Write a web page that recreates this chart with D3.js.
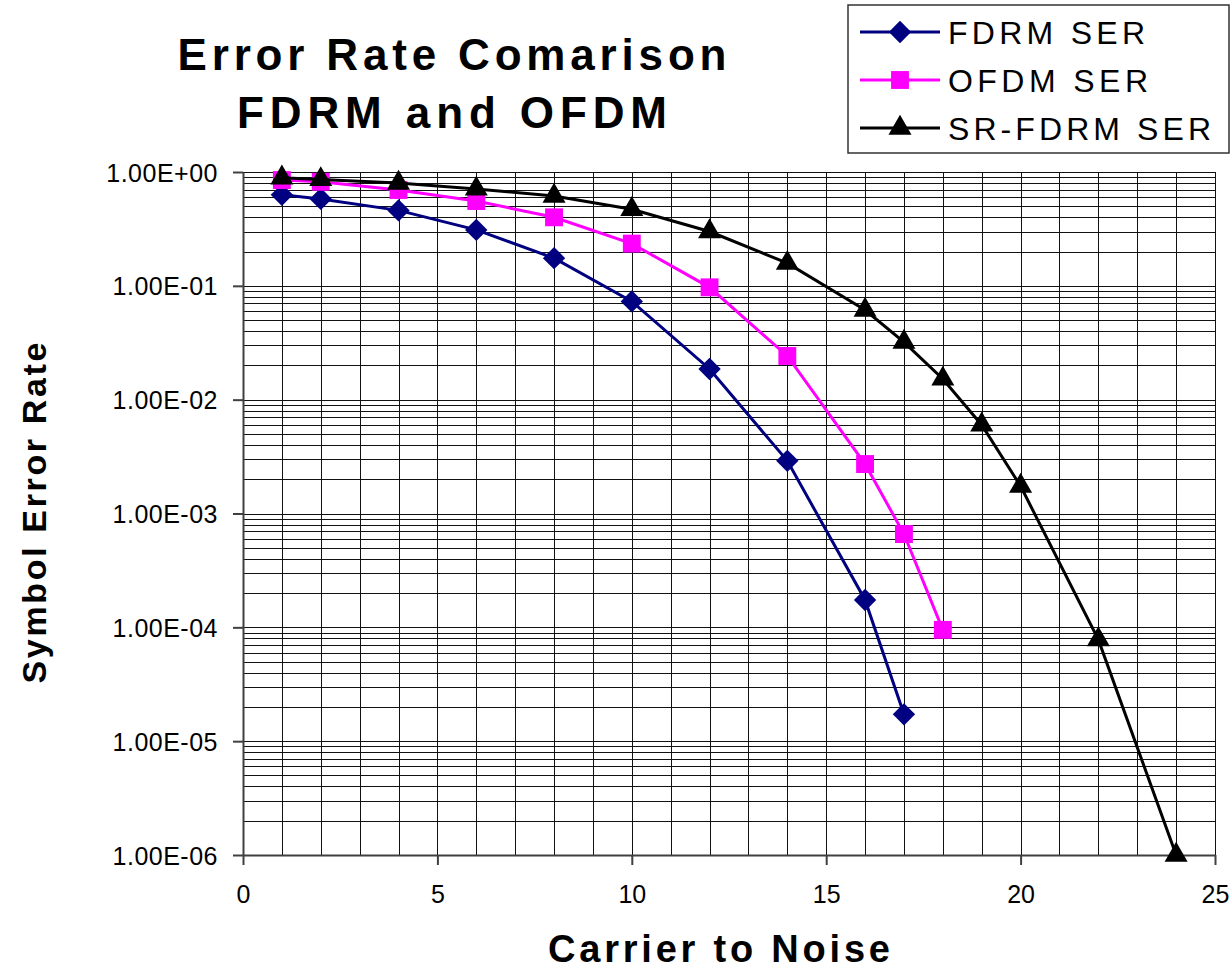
<!DOCTYPE html>
<meta charset="utf-8">
<style>
  body { margin: 0; background: #fff; }
  text { font-family: Arial, "Liberation Sans", sans-serif; fill: #000; }
  .grid line { stroke: #111; stroke-width: 1; shape-rendering: crispEdges; }
  .axis path, .axis line { stroke: #404040; stroke-width: 2; }
  .axis text { font-size: 25px; fill: #000; }
  .series path.line { fill: none; stroke-width: 3; }
</style>
<body>
<script src="https://cdn.jsdelivr.net/npm/d3@7"></script>
<script>

var width = 1232,
    height = 970;

// carrier to noise values for each curve
var fdrmX = [1, 2, 4, 6, 8, 10, 12, 14, 16, 17];
var fdrmSER = [0.63, 0.58, 0.46, 0.31, 0.175, 0.073, 0.0186, 0.0029, 0.000174, 0.0000172];

var ofdmX = [1, 2, 4, 6, 8, 10, 12, 14, 16, 17, 18];
var ofdmSER = [0.85, 0.82, 0.695, 0.556, 0.40, 0.235, 0.097, 0.0242, 0.00272, 0.00066, 0.000095];

var srX = [1, 2, 4, 6, 8, 10, 12, 14, 16, 17, 18, 19, 20, 22, 24];
var srSER = [0.89, 0.86, 0.80, 0.71, 0.615, 0.47, 0.30, 0.158, 0.0613, 0.032, 0.0152, 0.0060, 0.00174, 0.000078, 0.000001];

var seriesNames = ["FDRM SER", "OFDM SER", "SR-FDRM SER"];
var seriesColors = ["#000080", "#ff00ff", "#000000"];

var xTicks = [0, 5, 10, 15, 20, 25];
var yTicks = [1, 1e-1, 1e-2, 1e-3, 1e-4, 1e-5, 1e-6];

var series = [
  { name: seriesNames[0], color: seriesColors[0], shape: "diamond", pts: fdrmX.map(function (x, i) { return [x, fdrmSER[i]]; }) },
  { name: seriesNames[1], color: seriesColors[1], shape: "square", pts: ofdmX.map(function (x, i) { return [x, ofdmSER[i]]; }) },
  { name: seriesNames[2], color: seriesColors[2], shape: "triangle", pts: srX.map(function (x, i) { return [x, srSER[i]]; }) }
];

var plotL = 243, plotR = 1215, plotT = 172, plotB = 855;

var x = d3.scaleLinear().domain([0, 25]).range([plotL, plotR]);
var y = d3.scaleLog().domain([1e-6, 1]).range([plotB, plotT]);

var svg = d3.select("body").append("svg")
    .attr("width", width)
    .attr("height", height);

// grid
var grid = svg.append("g").attr("class", "grid");
grid.selectAll(".v")
  .data(d3.range(1, 26))
  .enter().append("line")
    .attr("x1", function (d) { return Math.round(x(d)) + 0.5; })
    .attr("x2", function (d) { return Math.round(x(d)) + 0.5; })
    .attr("y1", plotT).attr("y2", plotB);
grid.selectAll(".h")
  .data(y.ticks())
  .enter().append("line")
    .attr("x1", plotL).attr("x2", plotR)
    .attr("y1", function (d) { return Math.round(y(d)) + 0.5; })
    .attr("y2", function (d) { return Math.round(y(d)) + 0.5; });

function sciFormat(v) {
  var e = Math.round(Math.log10(v));
  var m = v / Math.pow(10, e);
  var s = e < 0 ? "-" : "+";
  var a = Math.abs(e);
  return m.toFixed(2) + "E" + s + (a < 10 ? "0" : "") + a;
}

svg.append("g")
    .attr("class", "axis")
    .attr("transform", "translate(" + plotL + ",0)")
    .call(d3.axisLeft(y).tickValues(yTicks).tickFormat(sciFormat).tickSize(10).tickSizeOuter(0).tickPadding(15))
    .selectAll("text").attr("dy", "0.36em").style("letter-spacing", "0.5px");

svg.append("g")
    .attr("class", "axis")
    .attr("transform", "translate(0," + plotB + ")")
    .call(d3.axisBottom(x).tickValues(xTicks).tickSize(10).tickSizeOuter(0).tickPadding(20));

// symbols
function symbolPath(shape) {
  if (shape === "diamond") return d3.symbol().type(d3.symbolSquare).size(250)();
  if (shape === "square") return d3.symbol().type(d3.symbolSquare).size(320)();
  return d3.symbol().type(d3.symbolTriangle).size(230)();
}
function symbolRot(shape) { return shape === "diamond" ? " rotate(45)" : ""; }

var line = d3.line()
    .x(function (d) { return x(d[0]); })
    .y(function (d) { return y(d[1]); });

var g = svg.selectAll(".series")
  .data(series)
  .enter().append("g")
    .attr("class", "series");

g.append("path")
    .attr("class", "line")
    .attr("stroke", function (d) { return d.color; })
    .attr("d", function (d) { return line(d.pts); });

g.each(function (s) {
  d3.select(this).selectAll(".pt")
    .data(s.pts)
    .enter().append("path")
      .attr("d", symbolPath(s.shape))
      .attr("fill", s.color)
      .attr("transform", function (d) { return "translate(" + x(d[0]) + "," + y(d[1]) + ")" + symbolRot(s.shape); });
});

// titles
svg.append("text")
    .attr("x", 452).attr("y", 70)
    .attr("text-anchor", "middle")
    .attr("font-size", 44).attr("font-weight", "bold")
    .attr("textLength", 549).attr("lengthAdjust", "spacing")
    .text("Error Rate Comarison");
svg.append("text")
    .attr("x", 452).attr("y", 128)
    .attr("text-anchor", "middle")
    .attr("font-size", 44).attr("font-weight", "bold")
    .attr("textLength", 430).attr("lengthAdjust", "spacing")
    .text("FDRM and OFDM");

svg.append("text")
    .attr("x", 719).attr("y", 962)
    .attr("text-anchor", "middle")
    .attr("font-size", 38).attr("font-weight", "bold")
    .attr("textLength", 342).attr("lengthAdjust", "spacing")
    .text("Carrier to Noise");

svg.append("text")
    .attr("transform", "translate(46,513) rotate(-90)")
    .attr("text-anchor", "middle")
    .attr("font-size", 34).attr("font-weight", "bold")
    .attr("textLength", 341).attr("lengthAdjust", "spacing")
    .text("Symbol Error Rate");

// legend
var legend = svg.append("g").attr("transform", "translate(848,5)");
legend.append("rect")
    .attr("width", 381).attr("height", 148)
    .attr("fill", "#fff").attr("stroke", "#333").attr("stroke-width", 1.5);

var legendWidths = [197, 200, 263];
var item = legend.selectAll(".item")
  .data(series)
  .enter().append("g")
    .attr("transform", function (d, i) { return "translate(0," + (27 + i * 48) + ")"; });
item.append("line")
    .attr("x1", 12).attr("x2", 92)
    .attr("stroke", function (d) { return d.color; }).attr("stroke-width", 3);
item.append("path")
    .attr("d", function (d) { return symbolPath(d.shape); })
    .attr("fill", function (d) { return d.color; })
    .attr("transform", function (d) { return "translate(52,0)" + symbolRot(d.shape); });
item.append("text")
    .attr("x", 100).attr("y", 12)
    .attr("font-size", 32)
    .attr("textLength", function (d, i) { return legendWidths[i]; })
    .attr("lengthAdjust", "spacing")
    .text(function (d) { return d.name; });

</script>
